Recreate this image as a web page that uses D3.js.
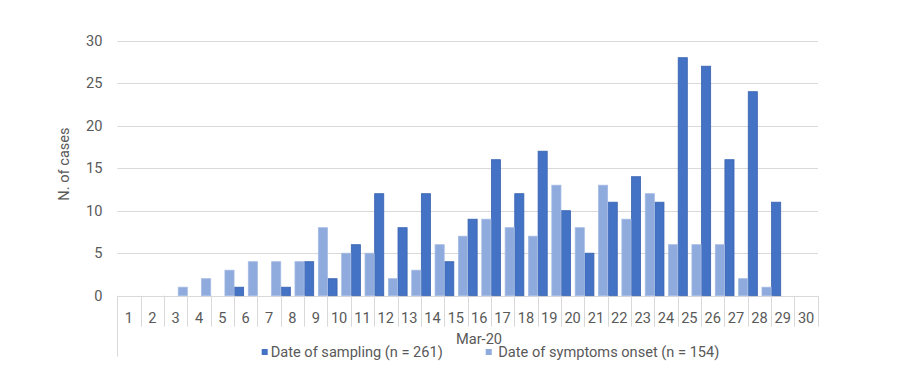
<!DOCTYPE html>
<html>
<head>
<meta charset="utf-8">
<script src="https://cdn.jsdelivr.net/npm/d3@7"></script>
<style>
  body { margin: 0; background: #fff; }
  text { font-family: Roboto, "Open Sans", sans-serif; fill: #595959; font-size: 14.6px; }
</style>
</head>
<body>
<script>
// Days of March 2020
const days = d3.range(1, 31);

// Cases by date of sampling (dark) and by date of symptoms onset (light)
const sampling = [0, 0, 0, 0, 0, 1, 0, 1, 4, 2, 6, 12, 8, 12, 4, 9, 16, 12, 17, 10, 5, 11, 14, 11, 28, 27, 16, 24, 11, 0];
const onset    = [0, 0, 1, 2, 3, 4, 4, 4, 8, 5, 5, 2, 3, 6, 7, 9, 8, 7, 13, 8, 13, 9, 12, 6, 6, 6, 2, 1, 0, 0];

const yTicks = [0, 5, 10, 15, 20, 25, 30];
const seriesNames = ["Date of sampling (n = 261)", "Date of symptoms onset (n = 154)"];
const colors = ["#4472c4", "#8faadc"];

const width = 900, height = 383;

const svg = d3.select("body").append("svg")
    .attr("width", width)
    .attr("height", height);

// Scales
const x = d3.scaleBand()
    .domain(days)
    .range([117.3, 817.8])
    .padding(0);

const xSub = d3.scaleBand()
    .domain([0, 1])
    .range([0, x.bandwidth()])
    .paddingInner(0.3)
    .paddingOuter(0);

const y = d3.scaleLinear()
    .domain([0, 30])
    .range([295.7, 40.7]);

// Gridlines
svg.append("g")
  .selectAll("line")
  .data(yTicks)
  .join("line")
    .attr("x1", x.range()[0])
    .attr("x2", x.range()[1])
    .attr("y1", d => Math.round(y(d)) + 0.5)
    .attr("y2", d => Math.round(y(d)) + 0.5)
    .attr("stroke", "#d9d9d9")
    .attr("stroke-width", 1);

// Y axis labels
svg.append("g")
  .selectAll("text")
  .data(yTicks)
  .join("text")
    .attr("x", 102.5)
    .attr("y", d => y(d))
    .attr("dy", "0.36em")
    .attr("text-anchor", "end")
    .text(d => d);

// Y axis title
svg.append("text")
    .attr("transform", "translate(69,164) rotate(-90)")
    .attr("text-anchor", "middle")
    .text("N. of cases");

// Bars
const groups = [sampling, onset];
groups.forEach((vals, i) => {
  svg.append("g")
    .selectAll("rect")
    .data(days.filter((d, j) => vals[j] > 0))
    .join("rect")
      .attr("x", d => x(d) + xSub(i) + 0.5)
      .attr("width", xSub.bandwidth() - 0.5)
      .attr("y", d => y(vals[d - 1]))
      .attr("height", d => y(0) - y(vals[d - 1]))
      .attr("fill", colors[i])
      .attr("stroke", i === 0 ? "#3a64b0" : "#a3bbe4")
      .attr("stroke-width", 0.8);
});

// Category axis: boundaries between days
const bounds = days.map(d => x(d)).concat([x.range()[1]]);
svg.append("g")
  .selectAll("line")
  .data(bounds)
  .join("line")
    .attr("x1", d => Math.round(d) + 0.5)
    .attr("x2", d => Math.round(d) + 0.5)
    .attr("y1", y(0))
    .attr("y2", (d, i) => i === 0 ? 356.7 : 326.7)
    .attr("stroke", "#d9d9d9");

// Day labels
svg.append("g")
  .selectAll("text")
  .data(days)
  .join("text")
    .attr("x", d => x(d) + x.bandwidth() / 2)
    .attr("y", 322.7)
    .attr("text-anchor", "middle")
    .text(d => d);

// Month label
svg.append("text")
    .attr("x", 479)
    .attr("y", 343.5)
    .attr("text-anchor", "middle")
    .text("Mar-20");

// Legend
const legendX = [261.7, 485.7];
const legend = svg.append("g")
  .selectAll("g")
  .data(seriesNames)
  .join("g")
    .attr("transform", (d, i) => `translate(${legendX[i]},0)`);

legend.append("rect")
    .attr("x", 0)
    .attr("y", 349)
    .attr("width", 6)
    .attr("height", 6)
    .attr("fill", (d, i) => colors[i]);

legend.append("text")
    .attr("x", (d, i) => i === 0 ? 9 : 12.6)
    .attr("y", 356.7)
    .text(d => d);
</script>
</body>
</html>
